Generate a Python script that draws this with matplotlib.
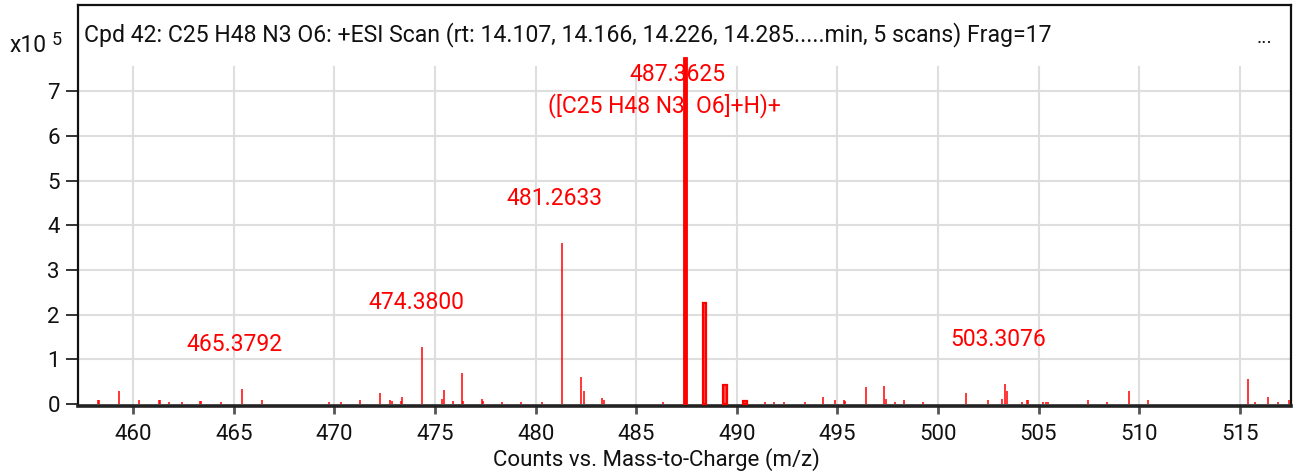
import matplotlib
matplotlib.use("Agg")
import matplotlib.pyplot as plt

plt.rcParams['font.family'] = ['Roboto', 'DejaVu Sans']

# ---- data (intensities in units of 1e5 counts) ----
line_mz = [458.25, 458.30, 459.29, 460.27, 461.26, 461.31, 461.76, 462.40, 463.31, 463.36,
           464.34, 465.40, 466.38, 469.74, 470.30, 471.26, 472.24, 472.77, 472.85, 473.30,
           473.38, 474.36, 475.35, 475.43, 475.87, 476.33, 476.41, 477.31, 477.37, 478.35,
           479.25, 480.32, 481.30, 482.27, 482.42, 483.32, 483.42, 486.35, 491.40, 491.83,
           492.37, 493.37, 494.30, 494.86, 495.32, 495.40, 496.43, 497.33, 497.43, 497.88,
           498.32, 499.28, 501.40, 502.48, 503.19, 503.35, 503.45, 504.17, 504.41, 504.46,
           505.20, 505.37, 505.49, 507.45, 508.42, 509.48, 510.46, 515.42, 515.77, 516.40,
           516.92, 517.46]
line_int = [0.08, 0.10, 0.29, 0.10, 0.10, 0.10, 0.05, 0.05, 0.06, 0.06,
            0.05, 0.33, 0.10, 0.05, 0.05, 0.09, 0.25, 0.09, 0.06, 0.06,
            0.16, 1.28, 0.12, 0.32, 0.06, 0.69, 0.06, 0.12, 0.06, 0.05,
            0.05, 0.05, 3.60, 0.61, 0.28, 0.13, 0.10, 0.05, 0.05, 0.05,
            0.05, 0.05, 0.16, 0.10, 0.10, 0.06, 0.37, 0.40, 0.12, 0.05,
            0.08, 0.05, 0.25, 0.08, 0.12, 0.45, 0.29, 0.05, 0.08, 0.08,
            0.05, 0.05, 0.05, 0.08, 0.05, 0.29, 0.08, 0.57, 0.05, 0.16,
            0.05, 0.08]

bar_mz = [487.41, 488.39, 489.43, 490.42]
bar_int = [7.76, 2.25, 0.42, 0.06]

label_mz = [465.3792, 474.3800, 481.2633, 487.3625, 503.3076]
label_peak = [0.33, 1.28, 3.60, 7.76, 0.45]
ion_label = "([C25 H48 N3  O6]+H)+"

x_ticks = [460, 465, 470, 475, 480, 485, 490, 495, 500, 505, 510, 515]
y_ticks = [0, 1, 2, 3, 4, 5, 6, 7]

title = ("Cpd 42: C25 H48 N3 O6: +ESI Scan (rt: 14.107, 14.166, 14.226, "
         "14.285.....min, 5 scans) Frag=17")
xlabel = "Counts vs. Mass-to-Charge (m/z)"

# ---- figure ----
W, H = 1293, 473
fig = plt.figure(figsize=(W / 100, H / 100), dpi=100)
ax = fig.add_axes([78 / W, 67 / H, (1291 - 78) / W, (406 - 5) / H])

xmin, xmax = 457.25, 517.55
ymin, ymax = -0.045, 8.93
grid_top = 7.54
ax.set_xlim(xmin, xmax)
ax.set_ylim(ymin, ymax)

grid_c = '#dedede'
for t in x_ticks:
    ax.plot([t, t], [0, grid_top], color=grid_c, lw=1.5, zorder=0)
for t in y_ticks[1:]:
    ax.plot([xmin, xmax], [t, t], color=grid_c, lw=1.5, zorder=0)

red = '#ff0000'
ax.vlines(line_mz, 0, line_int, color=red, lw=1.1, zorder=3)
ax.bar(bar_mz[:1], bar_int[:1], width=0.2, color=red, edgecolor=red, lw=0.6, zorder=3)
ax.bar(bar_mz[1:], bar_int[1:], width=0.19, color='#ff5050', edgecolor=red, lw=1.6, zorder=3)

# peak labels
for mz, pk in zip(label_mz, label_peak):
    y = min(pk + 1.0, 7.38)
    ax.text(mz - 0.33, y, f"{mz:.4f}", color=red, fontsize=16.5,
            ha='center', va='center', zorder=5)
ax.text(label_mz[3] - 0.98, 6.68, ion_label, color=red, fontsize=16.5,
        ha='center', va='center', zorder=5)

# title inside the frame
fig.text(84 / W, 1 - 35 / H, title, fontsize=16.6,
         ha='left', va='center', color='#111111')
fig.text(1265 / W, 1 - 38 / H, "...", fontsize=14,
         ha='center', va='center', color='#111111')

# exponent label
fig.text(10 / W, 1 - 46 / H, "x10", fontsize=16.5, ha='left', va='center', color='#111111')
fig.text(52 / W, 1 - 40 / H, "5", fontsize=13, ha='left', va='center', color='#111111')

# axes styling
ax.set_xticks(x_ticks)
ax.set_xticklabels([str(t) for t in x_ticks])
ax.set_yticks(y_ticks)
ax.set_yticklabels([str(t) for t in y_ticks])
ax.tick_params(axis='x', direction='out', length=6, width=2, color='#555555',
               labelsize=16, pad=7, labelcolor='#111111')
ax.tick_params(axis='y', direction='out', length=9, width=1.2, color='#111111',
               labelsize=16, pad=4, labelcolor='#111111')
for s in ['left', 'right', 'top']:
    ax.spines[s].set_linewidth(1.6)
    ax.spines[s].set_color('#111111')
ax.spines['bottom'].set_linewidth(2.6)
ax.spines['bottom'].set_color('#222222')

fig.text(656 / W, 1 - 460 / H, xlabel, fontsize=16, ha='center', va='center',
         color='#111111')

fig.savefig("out.png", dpi=100)
